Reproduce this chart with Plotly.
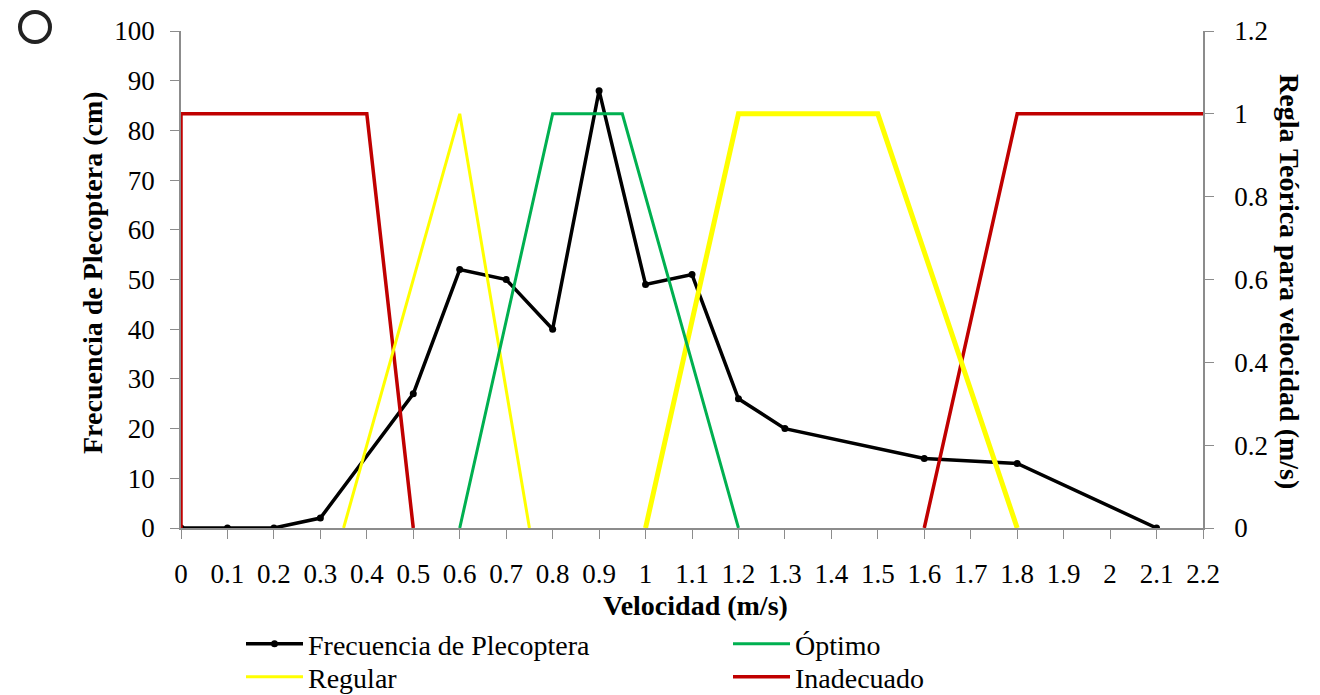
import plotly.graph_objects as go

# ---- data ----
vel = [0, 0.1, 0.2, 0.3, 0.5, 0.6, 0.7, 0.8, 0.9, 1.0, 1.1, 1.2, 1.3, 1.6, 1.8, 2.1]
freq = [0, 0, 0, 2, 27, 52, 50, 40, 88, 49, 51, 26, 20, 14, 13, 0]

opt_x = [0.6, 0.8, 0.95, 1.2]
opt_y = [0, 1, 1, 0]

reg1_x = [0.35, 0.6, 0.75]
reg1_y = [0, 1, 0]
reg2_x = [1.0, 1.2, 1.5, 1.8]
reg2_y = [0, 1, 1, 0]

inad1_x = [0, 0, 0.4, 0.5]
inad1_y = [0, 1, 1, 0]
inad2_x = [1.6, 1.8, 2.2]
inad2_y = [0, 1, 1]

xticks = [round(i * 0.1, 1) for i in range(23)]
xticklabels = ["0", "0.1", "0.2", "0.3", "0.4", "0.5", "0.6", "0.7", "0.8", "0.9", "1",
               "1.1", "1.2", "1.3", "1.4", "1.5", "1.6", "1.7", "1.8", "1.9", "2", "2.1", "2.2"]
yticks_left = list(range(0, 101, 10))
yticks_right = [0, 0.2, 0.4, 0.6, 0.8, 1, 1.2]
yticklabels_right = ["0", "0.2", "0.4", "0.6", "0.8", "1", "1.2"]

RED = "#C00000"
GREEN = "#00B050"
YELLOW = "#FFFF00"
FONT = "Liberation Serif, Times New Roman, serif"
TICK = 27
LEG = 28
TITLE = 28

OFF = 8  # page body margin
W, H = 1320 - OFF, 695 - OFF
L, T = 181 - OFF, 31 - OFF
R = W - (1203 - OFF)
B = H - (528 - OFF)
PW, PH = W - L - R, H - T - B


def px(xs):
    return (xs - OFF - L) / PW


def py(ys):
    return (H - B - (ys - OFF)) / PH


fig = go.Figure()

fig.add_trace(go.Scatter(x=inad1_x, y=inad1_y, mode="lines", yaxis="y2",
                         line=dict(color=RED, width=3.5), name="Inadecuado",
                         legend="legend4"))
fig.add_trace(go.Scatter(x=inad2_x, y=inad2_y, mode="lines", yaxis="y2",
                         line=dict(color=RED, width=3.5), name="Inadecuado",
                         showlegend=False))
fig.add_trace(go.Scatter(x=reg1_x, y=reg1_y, mode="lines", yaxis="y2",
                         line=dict(color=YELLOW, width=3), name="Regular",
                         legend="legend3"))
fig.add_trace(go.Scatter(x=reg2_x, y=reg2_y, mode="lines", yaxis="y2",
                         line=dict(color=YELLOW, width=5), name="Regular",
                         showlegend=False))
fig.add_trace(go.Scatter(x=opt_x, y=opt_y, mode="lines", yaxis="y2",
                         line=dict(color=GREEN, width=3), name="Óptimo",
                         legend="legend2"))
fig.add_trace(go.Scatter(x=vel, y=freq, mode="lines+markers",
                         line=dict(color="black", width=3.5),
                         marker=dict(color="black", size=7),
                         name="Frecuencia de Plecoptera", legend="legend"))

axis_line = "#8c8c8c"


def leg(xs, ys):
    return dict(x=px(xs), y=py(ys), xanchor="left", yanchor="middle",
                orientation="v", itemwidth=57, bgcolor="rgba(0,0,0,0)",
                font=dict(family=FONT, size=LEG, color="black"))


common_axis = dict(showgrid=False, zeroline=False, showline=True, linecolor=axis_line,
                   linewidth=1.5, ticks="outside", tickcolor=axis_line, ticklen=9,
                   tickfont=dict(family=FONT, size=TICK, color="black"), automargin=False)

fig.update_layout(
    width=W, height=H,
    margin=dict(l=L, r=R, t=T, b=B, autoexpand=False),
    paper_bgcolor="white", plot_bgcolor="white",
    font=dict(family=FONT, size=TICK, color="black"),
    xaxis=dict(range=[0, 2.2], tickvals=xticks, ticktext=xticklabels,
               ticklabelstandoff=12, **common_axis),
    yaxis=dict(range=[0, 100], tickvals=yticks_left, ticklabelstandoff=10, **common_axis),
    yaxis2=dict(range=[0, 1.2], tickvals=yticks_right, ticktext=yticklabels_right,
                overlaying="y", side="right", ticklabelstandoff=15, **common_axis),
    legend=leg(241, 644),
    legend2=leg(728, 644),
    legend3=leg(241, 677),
    legend4=leg(728, 677),
    showlegend=True,
)

fig.add_annotation(text="<b>Velocidad (m/s)</b>", xref="paper", yref="paper",
                   x=px(695), y=py(605), xanchor="center", yanchor="middle",
                   showarrow=False, font=dict(family=FONT, size=TITLE))
fig.add_annotation(text="<b>Frecuencia de Plecoptera (cm)</b>", xref="paper", yref="paper",
                   x=px(92), y=py(273), xanchor="center", yanchor="middle",
                   textangle=-90, showarrow=False, font=dict(family=FONT, size=TITLE))
fig.add_annotation(text="<b>Regla Teórica para velocidad (m/s)</b>", xref="paper", yref="paper",
                   x=px(1290), y=py(281), xanchor="center", yanchor="middle",
                   textangle=90, showarrow=False, font=dict(family=FONT, size=TITLE))

fig.add_shape(type="circle", xref="paper", yref="paper",
              x0=px(35 - 15), x1=px(35 + 15),
              y0=py(27 + 15), y1=py(27 - 15),
              line=dict(color="#222222", width=4))

fig.write_html("out.html")
